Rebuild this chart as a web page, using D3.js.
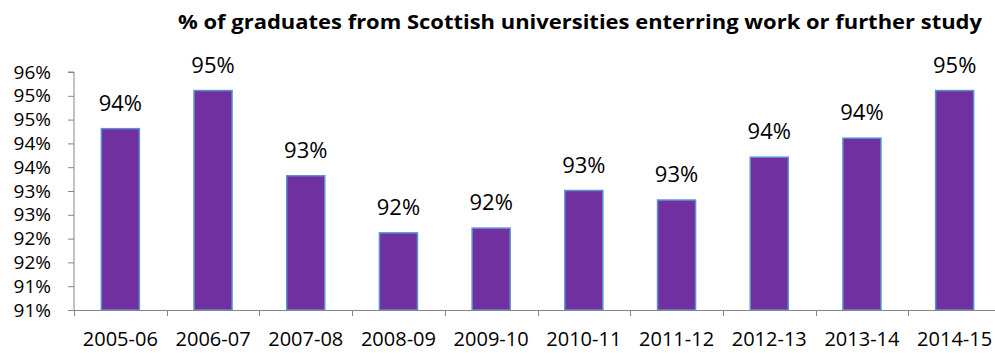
<!DOCTYPE html>
<html>
<head>
  <meta charset="utf-8">
  <script src="https://cdn.jsdelivr.net/npm/d3@7"></script>
  <style>
    body { margin: 0; background: #fff; }
    text { font-family: "Open Sans", sans-serif; fill: #000; }
    .axis path, .axis line { stroke: #868686; }
  </style>
</head>
<body>
<script>
  // chart data
  var years = ["2005-06", "2006-07", "2007-08", "2008-09", "2009-10",
               "2010-11", "2011-12", "2012-13", "2013-14", "2014-15"];
  var rates = [94.81, 95.61, 93.82, 92.62, 92.72, 93.51, 93.31, 94.21, 94.61, 95.61];
  var rateLabels = ["94%", "95%", "93%", "92%", "92%", "93%", "93%", "94%", "94%", "95%"];
  var yTicks = [91, 91.5, 92, 92.5, 93, 93.5, 94, 94.5, 95, 95.5, 96];
  var yTickLabels = ["91%", "91%", "92%", "92%", "93%", "93%", "94%", "94%", "95%", "95%", "96%"];

  var width = 995, height = 353;
  var plotLeft = 74, plotRight = 1001, plotTop = 72, plotBottom = 310;

  var svg = d3.select("body").append("svg")
    .attr("width", width)
    .attr("height", height);

  /*
    scales
  */
  var x = d3.scaleBand()
    .domain(years)
    .range([plotLeft, plotRight])
    .paddingInner(0.59)
    .paddingOuter(0.295);

  var y = d3.scaleLinear()
    .domain([91, 96])
    .range([plotBottom, plotTop]);

  /*
    title
  */
  svg.append("text")
    .attr("x", 178)
    .attr("y", 28.5)
    .style("font-size", "20px")
    .style("font-weight", "bold")
    .attr("textLength", 804)
    .attr("lengthAdjust", "spacingAndGlyphs")
    .text("% of graduates from Scottish universities enterring work or further study");

  /*
    y axis
  */
  var yAxis = d3.axisLeft(y)
    .tickValues(yTicks)
    .tickSize(6)
    .tickPadding(17)
    .tickFormat(function(d, i) { return yTickLabels[i]; });

  var gy = svg.append("g")
    .attr("class", "axis")
    .attr("transform", "translate(" + plotLeft + ",0)")
    .call(yAxis);
  gy.select(".domain").attr("d", "M-6," + plotTop + "H0V" + plotBottom);
  gy.selectAll(".tick text")
    .style("font-size", "19px")
    .attr("font-family", null);

  /*
    bars
  */
  svg.selectAll("rect.bar")
    .data(rates)
    .enter().append("rect")
    .attr("class", "bar")
    .attr("x", function(d, i) { return x(years[i]); })
    .attr("y", function(d) { return y(d); })
    .attr("width", x.bandwidth())
    .attr("height", function(d) { return y(91) - y(d); })
    .style("fill", "#7030A0")
    .style("stroke", "#5B8FD0")
    .style("stroke-width", 1.5);

  svg.selectAll("text.value")
    .data(rates)
    .enter().append("text")
    .attr("class", "value")
    .attr("x", function(d, i) { return x(years[i]) + x.bandwidth() / 2; })
    .attr("y", function(d) { return y(d) - 18; })
    .attr("text-anchor", "middle")
    .style("font-size", "22px")
    .text(function(d, i) { return rateLabels[i]; });

  /*
    x axis, ticks sit between the categories
  */
  var xg = svg.append("g").attr("class", "axis");
  xg.append("line")
    .attr("x1", plotLeft).attr("x2", plotRight)
    .attr("y1", plotBottom + 0.5).attr("y2", plotBottom + 0.5);
  xg.selectAll("line.tick")
    .data(years.concat(["end"]))
    .enter().append("line")
    .attr("class", "tick")
    .attr("x1", function(d, i) { return Math.round(plotLeft + i * x.step()) + 0.5; })
    .attr("x2", function(d, i) { return Math.round(plotLeft + i * x.step()) + 0.5; })
    .attr("y1", plotBottom)
    .attr("y2", plotBottom + 6);
  xg.selectAll("text")
    .data(years)
    .enter().append("text")
    .attr("x", function(d) { return x(d) + x.bandwidth() / 2; })
    .attr("y", 346)
    .attr("text-anchor", "middle")
    .style("font-size", "20px")
    .text(function(d) { return d; });
</script>
</body>
</html>
